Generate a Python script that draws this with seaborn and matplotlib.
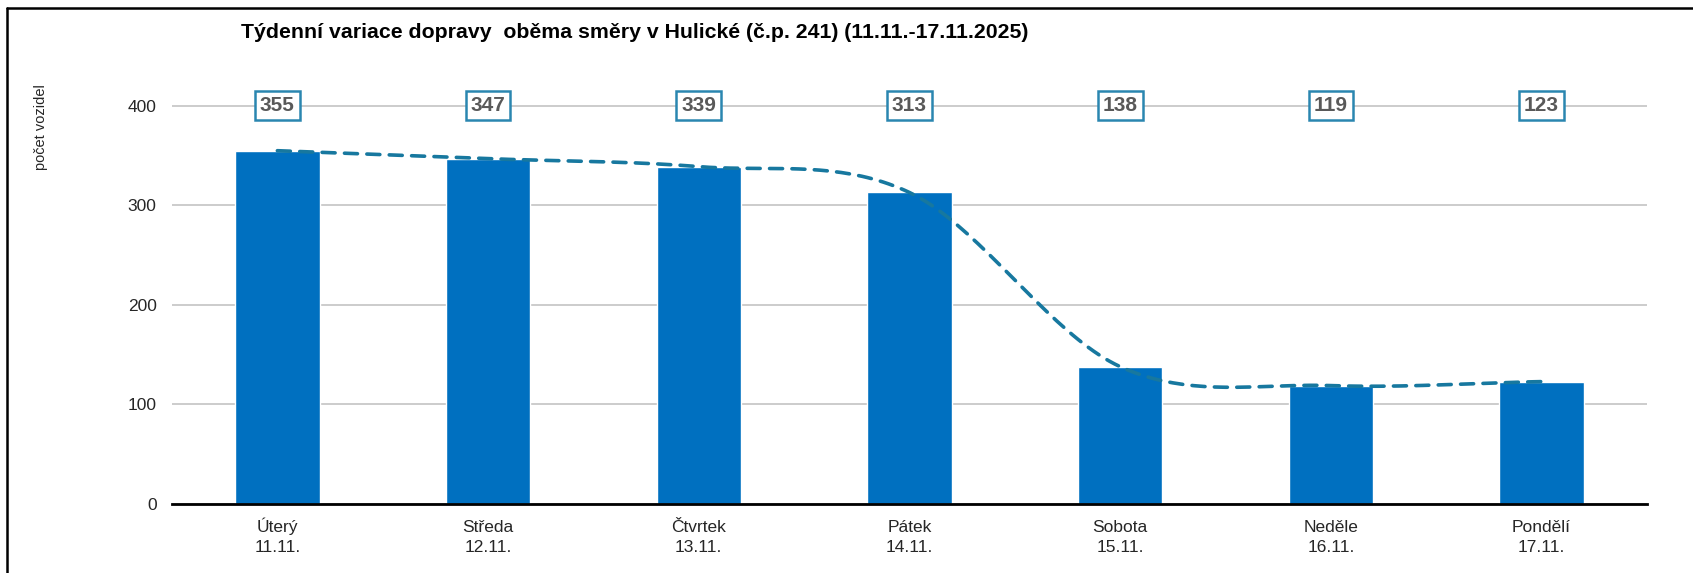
import numpy as np
import pandas as pd
import matplotlib
matplotlib.use("Agg")
import matplotlib.pyplot as plt
import matplotlib.transforms as mtransforms
import seaborn as sns
from matplotlib.font_manager import fontManager

# Daily traffic counts, both directions
days = ["Úterý", "Středa", "Čtvrtek", "Pátek", "Sobota", "Neděle", "Pondělí"]
dates = ["11.11.", "12.11.", "13.11.", "14.11.", "15.11.", "16.11.", "17.11."]
vehicles = [355, 347, 339, 313, 138, 119, 123]

title = "Týdenní variace dopravy  oběma směry v Hulické (č.p. 241) (11.11.-17.11.2025)"
ylabel = "počet vozidel"
yticks = [0, 100, 200, 300, 400]

BAR = "#0070C0"
TREND = "#17789f"
BOX_EDGE = "#2a86b0"
LABEL_GRAY = "#595959"

sns.set_theme(style="white")
available = {f.name for f in fontManager.ttflist}
narrow = "Liberation Sans Narrow" if "Liberation Sans Narrow" in available else "Liberation Sans"
plt.rcParams["font.family"] = [narrow, "DejaVu Sans"]

df = pd.DataFrame({
    "label": [f"{d}\n{t}" for d, t in zip(days, dates)],
    "count": vehicles,
})

fig = plt.figure(figsize=(16.93, 5.73), dpi=100)
ax = fig.add_axes([0.1016, 0.1204, 0.8712, 0.7295])

sns.barplot(data=df, x="label", y="count", color=BAR, width=0.4,
            saturation=1, ax=ax, zorder=2)


def smooth_curve(xs, ys, steps=40):
    """Catmull-Rom spline through the points (like a smoothed line in Excel)."""
    xs = np.asarray(xs, float)
    ys = np.asarray(ys, float)
    n = len(xs)
    px, py = [], []
    for i in range(n - 1):
        i0, i3 = max(i - 1, 0), min(i + 2, n - 1)
        mx0 = (xs[i + 1] - xs[i0]) / (i + 1 - i0)
        my0 = (ys[i + 1] - ys[i0]) / (i + 1 - i0)
        mx1 = (xs[i3] - xs[i]) / (i3 - i)
        my1 = (ys[i3] - ys[i]) / (i3 - i)
        t = np.linspace(0, 1, steps, endpoint=(i == n - 2))
        h00 = 2 * t**3 - 3 * t**2 + 1
        h10 = t**3 - 2 * t**2 + t
        h01 = -2 * t**3 + 3 * t**2
        h11 = t**3 - t**2
        px.append(h00 * xs[i] + h10 * mx0 + h01 * xs[i + 1] + h11 * mx1)
        py.append(h00 * ys[i] + h10 * my0 + h01 * ys[i + 1] + h11 * my1)
    return np.concatenate(px), np.concatenate(py)


cx, cy = smooth_curve(np.arange(len(vehicles)), vehicles)
sns.lineplot(x=cx, y=cy, ax=ax, color=TREND, linewidth=2.6, sort=False,
             estimator=None, zorder=3)
line = ax.lines[-1]
line.set_dashes((3.6, 2.6))
line.set_dash_capstyle("round")

# Value boxes along the top gridline
for i, v in enumerate(vehicles):
    ax.text(i, 400, f"{v}", ha="center", va="center", fontsize=15,
            fontweight="bold", color=LABEL_GRAY, family=["Liberation Sans", "DejaVu Sans"],
            zorder=5,
            bbox=dict(boxstyle="square,pad=0.24", facecolor="white",
                      edgecolor=BOX_EDGE, linewidth=1.8))

ax.set_ylim(0, 420)
ax.set_xlim(-0.5, len(vehicles) - 0.5)
ax.set_yticks(yticks)
ax.set_yticklabels([str(t) for t in yticks], fontsize=12.5, color="#262626",
                   family=["Liberation Sans", "DejaVu Sans"])
ax.tick_params(axis="y", pad=11, length=0)

# Category labels: day name over date, bottom-aligned so accents don't shift rows
ax.set_xticks(range(len(days)))
ax.set_xticklabels([])
ax.tick_params(axis="x", length=0)
label_trans = ax.get_xaxis_transform() + mtransforms.ScaledTranslation(0, -0.505, fig.dpi_scale_trans)
for i, lab in enumerate(df["label"]):
    ax.text(i, 0, lab, transform=label_trans, ha="center", va="bottom",
            fontsize=12.5, color="#262626", linespacing=1.35)

ax.set_xlabel("")
ax.set_ylabel("")
ax.yaxis.grid(True, color="#c4c4c4", linewidth=1.2)
ax.set_axisbelow(True)
for s in ["top", "right", "left"]:
    ax.spines[s].set_visible(False)
ax.spines["bottom"].set_color("black")
ax.spines["bottom"].set_linewidth(2)
ax.spines["bottom"].set_zorder(4)

fig.text(0.375, 0.944, title, ha="center", va="center", fontsize=15.3,
         fontweight="bold", color="black")
fig.text(0.0245, 0.853, ylabel, rotation=90, ha="center", va="top",
         fontsize=10.5, color="#262626")

# Frame lines along the top and left edges
fig.add_artist(plt.Line2D([0.0044, 1.0], [0.986, 0.986], color="black",
                          linewidth=1.8, transform=fig.transFigure))
fig.add_artist(plt.Line2D([0.0044, 0.0044], [0.0, 0.986], color="black",
                          linewidth=1.8, transform=fig.transFigure))

fig.savefig("out.png", dpi=100)
